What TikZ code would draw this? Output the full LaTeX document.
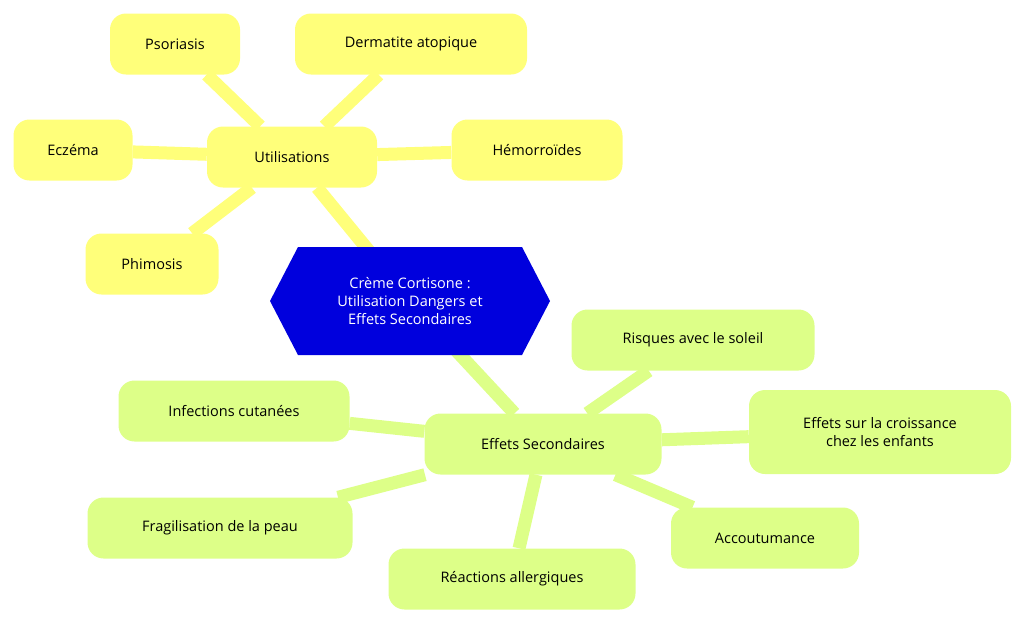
\documentclass[tikz,border=0pt]{standalone}
\usepackage{fontspec}
\setmainfont{Open Sans}
\usetikzlibrary{positioning}
\definecolor{yel}{HTML}{FFFF7A}
\definecolor{grn}{HTML}{DDFF88}
\definecolor{hexblue}{HTML}{0000DD}
\tikzset{
    topic/.style={rounded corners=16pt, minimum height=61pt, align=center, font=\fontsize{14.5}{18}\selectfont},
    usenode/.style={topic, fill=yel},
    sidenode/.style={topic, fill=grn},
    uselink/.style={draw=yel, line width=13pt},
    sidelink/.style={draw=grn, line width=13pt},
}
\begin{document}
\begin{tikzpicture}[x=1pt, y=-1pt]
    \useasboundingbox (0,0) rectangle (1024,625);

    % central hexagon
    \coordinate (root) at (410,301);
    \node[usenode, minimum width=170pt] (use) at (292,157) {Utilisations};
    \node[sidenode, minimum width=237pt] (side) at (543,444) {Effets Secondaires};

    \node[usenode, minimum width=130pt] (psor) at (175,44) {Psoriasis};
    \node[usenode, minimum width=232pt] (derm) at (411,44) {Dermatite atopique};
    \node[usenode, minimum width=119pt] (ecz) at (73,150) {Eczéma};
    \node[usenode, minimum width=171pt] (hemo) at (537,150) {Hémorroïdes};
    \node[usenode, minimum width=133pt] (phim) at (152,264) {Phimosis};

    \node[sidenode, minimum width=243pt] (sun) at (693,340) {Risques avec le soleil};
    \node[sidenode, minimum width=231pt] (infe) at (234,411) {Infections cutanées};
    \node[sidenode, minimum width=262pt, minimum height=84pt] (grow) at (880,432) {Effets sur la croissance\\chez les enfants};
    \node[sidenode, minimum width=265pt] (frag) at (220,528) {Fragilisation de la peau};
    \node[sidenode, minimum width=188pt] (habit) at (765,538) {Accoutumance};
    \node[sidenode, minimum width=247pt] (alle) at (512,579) {Réactions allergiques};

    \begin{scope}[on background layer/.style={}]
    \end{scope}
    \pgfdeclarelayer{back}
    \pgfsetlayers{back,main}
    \begin{pgfonlayer}{back}
        \draw[uselink] (root) -- (use);
        \foreach \leaf in {psor, derm, ecz, hemo, phim}
            \draw[uselink] (use) -- (\leaf);
        \draw[sidelink] (root) -- (side);
        \foreach \leaf in {sun, infe, grow, frag, habit, alle}
            \draw[sidelink] (side) -- (\leaf);
    \end{pgfonlayer}

    \fill[hexblue] (270,301) -- (298,247) -- (522,247) -- (550,301) -- (522,355) -- (298,355) -- cycle;
    \node[align=center, text=white, font=\fontsize{14.5}{18}\selectfont] (rootlab) at (root) {Crème Cortisone :\\Utilisation Dangers et\\Effets Secondaires\hspace{12pt}};
\end{tikzpicture}
\end{document}
